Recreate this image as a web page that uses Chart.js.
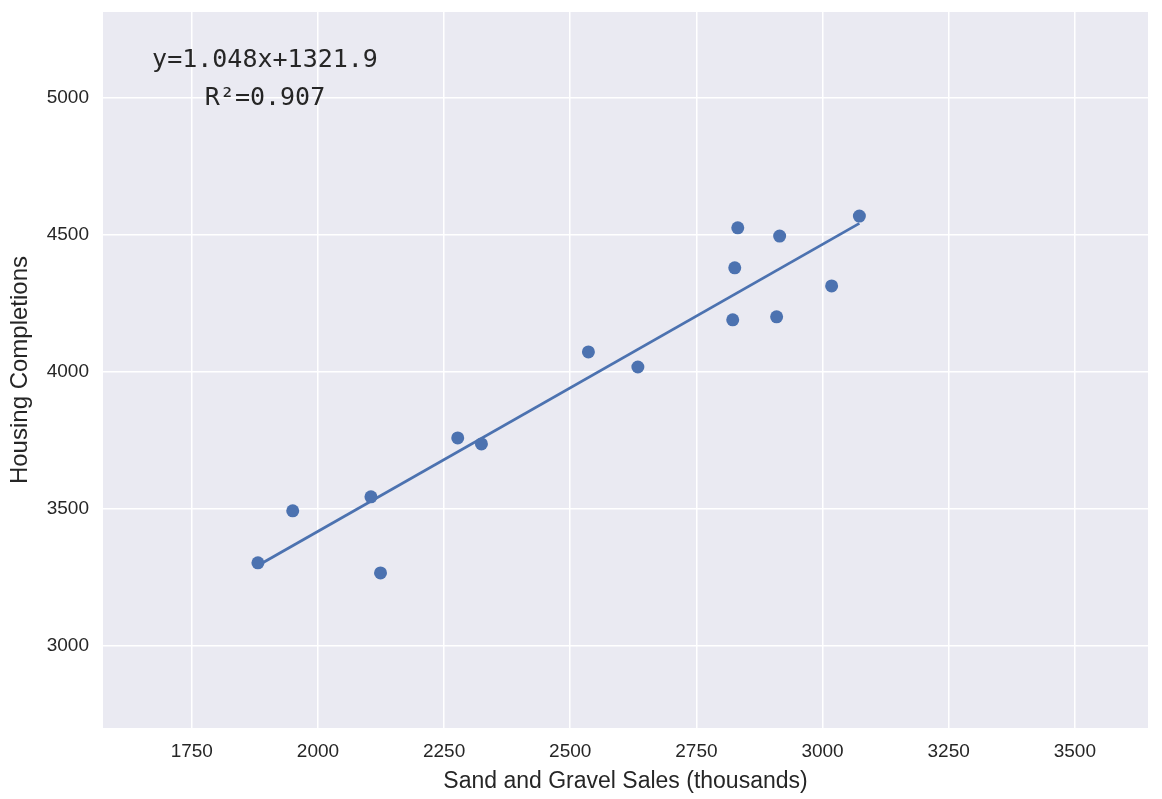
<!DOCTYPE html>
<html>
<head>
<meta charset="utf-8">
<script src="https://cdn.jsdelivr.net/npm/chart.js@4.4.1/dist/chart.umd.min.js"></script>
<style>
  html, body { margin: 0; padding: 0; background: #ffffff; }
  #wrap { width: 1162px; height: 799px; position: relative; }
</style>
</head>
<body>
<div id="wrap"><canvas id="c" width="1162" height="799"></canvas></div>
<script>
// Data
const salesX = [1881, 1950, 2105, 2124, 2277, 2324, 2536, 2634, 2822, 2826, 2832, 2909, 2915, 3018, 3073];
const housingY = [3303, 3493, 3544, 3266, 3759, 3737, 4073, 4018, 4190, 4380, 4526, 4201, 4496, 4314, 4569];
const slope = 1.048;
const intercept = 1321.9;
const equationText = "y=1.048x+1321.9";
const r2Text = "R\u00B2=0.907";
const xTicks = [1750, 2000, 2250, 2500, 2750, 3000, 3250, 3500];
const yTicks = [3000, 3500, 4000, 4500, 5000];

const pts = salesX.map((x, i) => ({ x: x, y: housingY[i] }));
const xMin = Math.min(...salesX), xMax = Math.max(...salesX);
const fitLine = [{ x: xMin, y: slope * xMin + intercept }, { x: xMax, y: slope * xMax + intercept }];

const bgPlugin = {
  id: 'bg',
  beforeDraw(chart) {
    const { ctx, chartArea: a } = chart;
    ctx.save();
    ctx.fillStyle = '#EAEAF2';
    ctx.fillRect(a.left, a.top, a.right - a.left, a.bottom - a.top);
    ctx.restore();
  }
};
const textPlugin = {
  id: 'eqText',
  afterDatasetsDraw(chart) {
    const { ctx, chartArea: a } = chart;
    ctx.save();
    ctx.font = '25px "DejaVu Sans Mono", monospace';
    ctx.fillStyle = '#262626';
    ctx.textAlign = 'center';
    ctx.textBaseline = 'middle';
    const cx = a.left + 162;
    ctx.fillText(equationText, cx, a.top + 48);
    ctx.fillText(r2Text, cx, a.top + 86);
    ctx.restore();
  }
};

new Chart(document.getElementById('c'), {
  type: 'scatter',
  data: {
    datasets: [
      {
        label: 'fit',
        type: 'line',
        data: fitLine,
        borderColor: '#4C72B0',
        borderWidth: 2.8,
        pointRadius: 0,
        fill: false,
        order: 1
      },
      {
        label: 'data',
        data: pts,
        backgroundColor: '#4C72B0',
        borderColor: '#4C72B0',
        pointRadius: 6.5,
        pointBorderWidth: 0,
        order: 0
      }
    ]
  },
  options: {
    responsive: false,
    animation: false,
    layout: { padding: { top: 12, right: 14, left: 0, bottom: 0 } },
    plugins: { legend: { display: false }, tooltip: { enabled: false } },
    scales: {
      x: {
        type: 'linear',
        min: 1574, max: 3645,
        afterBuildTicks(s) { s.ticks = xTicks.map(v => ({ value: v })); },
        afterFit(s) { s.height = 71; s.paddingLeft = 0; s.paddingRight = 0; },
        grid: { color: '#ffffff', lineWidth: 1.5, drawTicks: false },
        border: { display: false },
        ticks: { color: '#262626', font: { family: 'Liberation Sans, Arial', size: 19 }, padding: 12, maxRotation: 0, callback: v => String(v) },
        title: { display: true, text: 'Sand and Gravel Sales (thousands)', color: '#262626', font: { family: 'Liberation Sans, Arial', size: 23 }, padding: { top: 0, bottom: 4 } }
      },
      y: {
        type: 'linear',
        min: 2700, max: 5314,
        afterBuildTicks(s) { s.ticks = yTicks.map(v => ({ value: v })); },
        afterFit(s) { s.width = 103; s.paddingTop = 0; s.paddingBottom = 0; },
        grid: { color: '#ffffff', lineWidth: 1.5, drawTicks: false },
        border: { display: false },
        ticks: { color: '#262626', font: { family: 'Liberation Sans, Arial', size: 19 }, padding: 14, callback: v => String(v) },
        title: { display: true, text: 'Housing Completions', color: '#262626', font: { family: 'Liberation Sans, Arial', size: 24 }, padding: { top: 6, bottom: 0 } }
      }
    }
  },
  plugins: [bgPlugin, textPlugin]
});
</script>
</body>
</html>
